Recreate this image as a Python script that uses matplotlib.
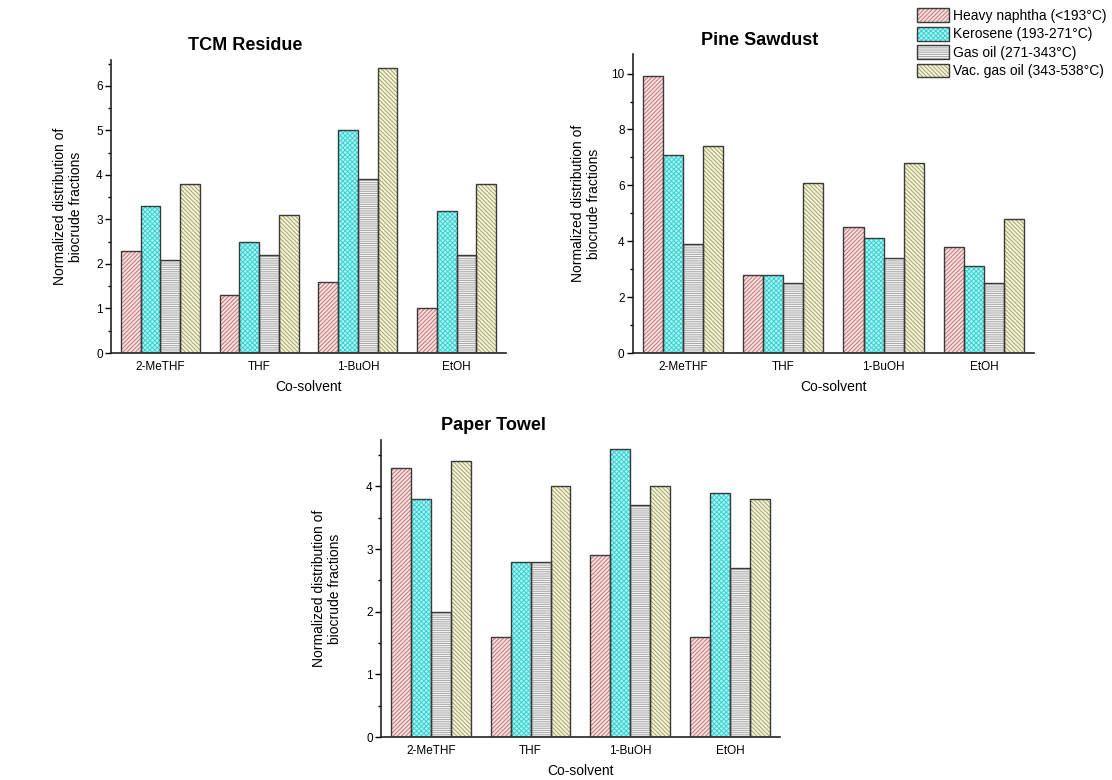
import matplotlib
matplotlib.use("Agg")
import matplotlib.pyplot as plt
from matplotlib.patches import Patch
from matplotlib.legend_handler import HandlerTuple
from matplotlib.ticker import MultipleLocator
import numpy as np

plt.rcParams['font.family'] = ['Liberation Sans', 'DejaVu Sans']
plt.rcParams['hatch.linewidth'] = 0.7

categories = ["2-MeTHF", "THF", "1-BuOH", "EtOH"]
series_names = ["Heavy naphtha (<193°C)", "Kerosene (193-271°C)",
                "Gas oil (271-343°C)", "Vac. gas oil (343-538°C)"]

tcm_heavy = [2.3, 1.3, 1.6, 1.0]
tcm_kero = [3.3, 2.5, 5.0, 3.2]
tcm_gas = [2.1, 2.2, 3.9, 2.2]
tcm_vac = [3.8, 3.1, 6.4, 3.8]

pine_heavy = [9.9, 2.8, 4.5, 3.8]
pine_kero = [7.1, 2.8, 4.1, 3.1]
pine_gas = [3.9, 2.5, 3.4, 2.5]
pine_vac = [7.4, 6.1, 6.8, 4.8]

paper_heavy = [4.3, 1.6, 2.9, 1.6]
paper_kero = [3.8, 2.8, 4.6, 3.9]
paper_gas = [2.0, 2.8, 3.7, 2.7]
paper_vac = [4.4, 4.0, 4.0, 3.8]

faces = ['#f7e2e2', '#b8f2f2', '#ffffff', '#f4f4de']
hatch_cols = ['#c47272', '#30d4d4', '#a8a8a8', '#a4a464']
hatches = ['////////', 'xxxxxxx', '---------', '\\\\\\\\\\\\\\\\']
outline = '#3a3a3a'

fig = plt.figure(figsize=(11.12, 7.8), dpi=100)
fig.patch.set_facecolor('white')

panels = [
    ("TCM Residue", [tcm_heavy, tcm_kero, tcm_gas, tcm_vac],
     [0.0998, 0.5474, 0.3552, 0.3757], 6.58, 1, 0.5, (0.2203, 0.9423), -0.070),
    ("Pine Sawdust", [pine_heavy, pine_kero, pine_gas, pine_vac],
     [0.5692, 0.5474, 0.3606, 0.3833], 10.7, 2, 1, (0.6835, 0.9487), -0.080),
    ("Paper Towel", [paper_heavy, paper_kero, paper_gas, paper_vac],
     [0.3426, 0.0551, 0.3588, 0.3808], 4.74, 1, 0.5, (0.4433, 0.4551), -0.098),
]

x = np.arange(len(categories))
w = 0.2
for title, data, rect, ymax, major, minor, tpos, ylx in panels:
    ax = fig.add_axes(rect)
    for i, vals in enumerate(data):
        pos = x + (i - 1.5) * w
        ax.bar(pos, vals, width=w, color=faces[i], edgecolor=hatch_cols[i],
               hatch=hatches[i], linewidth=0, zorder=2)
        ax.bar(pos, vals, width=w, facecolor='none', edgecolor=outline,
               linewidth=1.0, zorder=3)
    ax.set_xlim(-0.5, 3.5)
    ax.set_ylim(0, ymax)
    ax.set_xticks(x)
    ax.set_xticklabels(categories, fontsize=8.5)
    ax.yaxis.set_major_locator(MultipleLocator(major))
    ax.yaxis.set_minor_locator(MultipleLocator(minor))
    ax.tick_params(axis='x', length=0, pad=6)
    ax.tick_params(axis='y', which='major', direction='out', length=4,
                   width=1, labelsize=8.5, pad=2)
    ax.tick_params(axis='y', which='minor', direction='out', length=2.5, width=1)
    for s in ['top', 'right']:
        ax.spines[s].set_visible(False)
    for s in ['left', 'bottom']:
        ax.spines[s].set_linewidth(1.2)
        ax.spines[s].set_color('#222222')
    ax.set_xlabel("Co-solvent", fontsize=10, labelpad=5)
    ax.set_ylabel("Normalized distribution of\nbiocrude fractions", fontsize=10)
    ax.yaxis.set_label_coords(ylx, 0.5)
    ax.set_facecolor('white')
    fig.text(tpos[0], tpos[1], title, fontsize=13, fontweight='bold',
             ha='center', va='center')

handles = []
for i in range(4):
    h1 = Patch(facecolor=faces[i], edgecolor=hatch_cols[i], hatch=hatches[i], linewidth=0)
    h2 = Patch(facecolor='none', edgecolor=outline, linewidth=1.0)
    handles.append((h1, h2))
fig.legend(handles, series_names, loc='upper left',
           bbox_to_anchor=(0.822, 0.993), frameon=False, fontsize=10,
           handler_map={tuple: HandlerTuple(ndivide=1, pad=0)},
           handlelength=2.3, handleheight=1.15, labelspacing=0.28,
           handletextpad=0.3, borderpad=0.2, borderaxespad=0)

fig.savefig("out.png", dpi=100, facecolor='white')
